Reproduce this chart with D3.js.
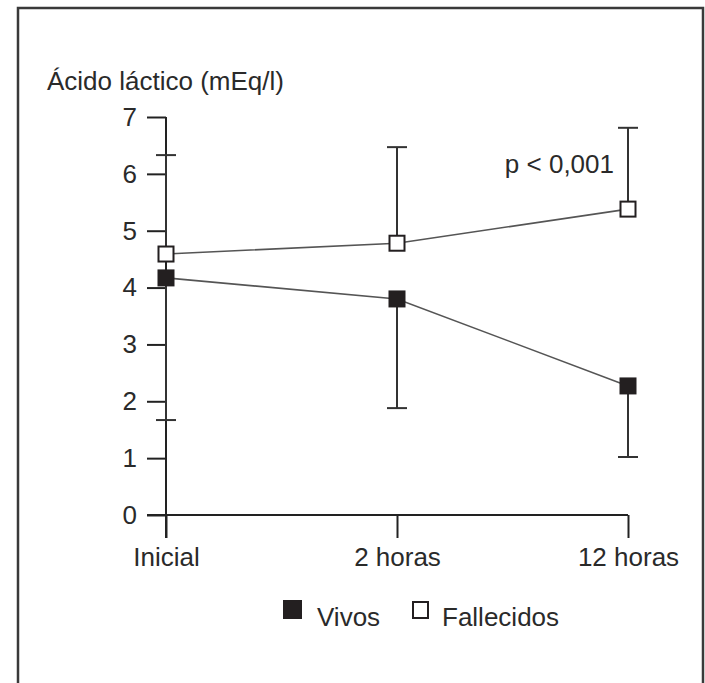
<!DOCTYPE html>
<html>
<head>
<meta charset="utf-8">
<script src="https://cdn.jsdelivr.net/npm/d3@7"></script>
<style>
    html, body { margin: 0; padding: 0; background: #fff; }
    svg text { font-family: "Liberation Sans", Arial, Helvetica, sans-serif; fill: #2a2a2a; }
</style>
</head>
<body>
<div id="chart"></div>
<script>
// values
const categories = ["Inicial", "2 horas", "12 horas"];
const yTicks = [0, 1, 2, 3, 4, 5, 6, 7];
const vivos = [4.17, 3.80, 2.27];
const vivosLower = [1.67, 1.88, 1.02];
const fallecidos = [4.59, 4.78, 5.38];
const fallecidosUpper = [6.33, 6.47, 6.81];
const seriesNames = ["Vivos", "Fallecidos"];
const pText = "p < 0,001";
const yTitle = "Ácido láctico (mEq/l)";

(function drawChart() {
    const width = 705;
    const height = 683;
    const ink = "#222";
    const fontSize = 26;

    const svg = d3.select("#chart").append("svg")
        .attr("width", width)
        .attr("height", height);

    // frame (no bottom edge visible in the figure)
    svg.append("path")
        .attr("d", `M18,${height + 5}V8H703V${height + 5}`)
        .attr("fill", "none")
        .attr("stroke", "#3a3a3a")
        .attr("stroke-width", 2.5);

    const x = d3.scalePoint().domain(categories).range([166, 628]);
    const y = d3.scaleLinear().domain([0, 7]).range([515, 117]);

    // y axis
    const yAxis = svg.append("g")
        .attr("transform", `translate(${x(categories[0])},0)`)
        .call(d3.axisLeft(y).tickValues(yTicks).tickFormat(d3.format("d"))
            .tickSize(19).tickPadding(10).tickSizeOuter(0));
    yAxis.select(".domain").remove();
    yAxis.selectAll("line").attr("stroke", ink).attr("stroke-width", 2);
    yAxis.selectAll("text").style("font-size", `${fontSize}px`).attr("fill", "#2a2a2a");

    // x axis
    const xAxis = svg.append("g")
        .attr("transform", `translate(0,${y(0)})`)
        .call(d3.axisBottom(x).tickSize(23).tickPadding(10).tickSizeOuter(0));
    xAxis.select(".domain").remove();
    xAxis.selectAll("line").attr("stroke", ink).attr("stroke-width", 2);
    xAxis.selectAll("text").style("font-size", `${fontSize}px`).attr("fill", "#2a2a2a");

    // axis lines
    svg.append("line")
        .attr("x1", x(categories[0])).attr("x2", x(categories[0]))
        .attr("y1", y(7)).attr("y2", y(0) + 23)
        .attr("stroke", ink).attr("stroke-width", 2);
    svg.append("line")
        .attr("x1", x(categories[0]) - 19).attr("x2", x(categories[categories.length - 1]))
        .attr("y1", y(0)).attr("y2", y(0))
        .attr("stroke", ink).attr("stroke-width", 2);

    // y title
    svg.append("text")
        .attr("x", 47)
        .attr("y", 90)
        .style("font-size", `${fontSize}px`)
        .text(yTitle);

    const capW = 10;

    function errorBars(values, ends) {
        const g = svg.append("g");
        categories.forEach((c, i) => {
            const cx = x(c);
            g.append("line")
                .attr("x1", cx).attr("x2", cx)
                .attr("y1", y(values[i])).attr("y2", y(ends[i]))
                .attr("stroke", "#333").attr("stroke-width", 2);
            g.append("line")
                .attr("x1", cx - capW).attr("x2", cx + capW)
                .attr("y1", y(ends[i])).attr("y2", y(ends[i]))
                .attr("stroke", "#333").attr("stroke-width", 2);
        });
    }

    errorBars(fallecidos, fallecidosUpper);
    errorBars(vivos, vivosLower);

    const line = d3.line()
        .x((d, i) => x(categories[i]))
        .y(d => y(d));

    [vivos, fallecidos].forEach(values => {
        svg.append("path")
            .datum(values)
            .attr("d", line)
            .attr("fill", "none")
            .attr("stroke", "#555")
            .attr("stroke-width", 1.6);
    });

    const size = 17;
    svg.append("g").selectAll("rect")
        .data(vivos)
        .join("rect")
        .attr("x", (d, i) => x(categories[i]) - size / 2)
        .attr("y", d => y(d) - size / 2)
        .attr("width", size)
        .attr("height", size)
        .attr("fill", "#231f20");

    svg.append("g").selectAll("rect")
        .data(fallecidos)
        .join("rect")
        .attr("x", (d, i) => x(categories[i]) - (size - 2) / 2)
        .attr("y", d => y(d) - (size - 2) / 2)
        .attr("width", size - 2)
        .attr("height", size - 2)
        .attr("fill", "#fff")
        .attr("stroke", "#231f20")
        .attr("stroke-width", 2);

    // p value
    svg.append("text")
        .attr("x", 614)
        .attr("y", 173)
        .attr("text-anchor", "end")
        .style("font-size", `${fontSize}px`)
        .text(pText);

    // legend
    const legend = svg.append("g").attr("transform", "translate(283,626)");
    legend.append("rect")
        .attr("x", 0).attr("y", -26)
        .attr("width", 19).attr("height", 19)
        .attr("fill", "#231f20");
    legend.append("text")
        .attr("x", 34).attr("y", 0)
        .style("font-size", `${fontSize}px`)
        .text(seriesNames[0]);
    legend.append("rect")
        .attr("x", 130).attr("y", -24)
        .attr("width", 15).attr("height", 16)
        .attr("fill", "#fff")
        .attr("stroke", "#231f20")
        .attr("stroke-width", 2);
    legend.append("text")
        .attr("x", 159).attr("y", 0)
        .style("font-size", `${fontSize}px`)
        .text(seriesNames[1]);
}());
</script>
</body>
</html>
